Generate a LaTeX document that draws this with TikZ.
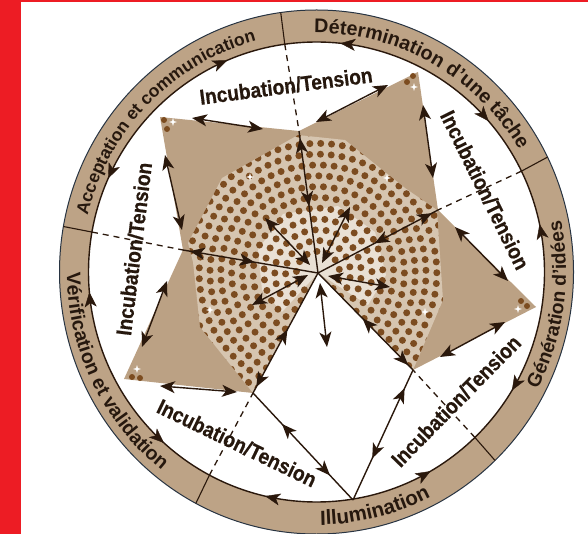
\documentclass[tikz,border=0pt]{standalone}
\usepackage{fontspec}
\setmainfont{Liberation Sans}
\newfontfamily\incfont[FakeStretch=0.89,FakeBold=0.6]{Liberation Sans}
\usetikzlibrary{arrows.meta,decorations.markings,decorations.text}
\definecolor{redbar}{RGB}{237,28,36}
\definecolor{bandtan}{RGB}{189,163,134}
\definecolor{startan}{RGB}{187,161,132}
\definecolor{dotbg}{RGB}{214,197,176}
\definecolor{midlight}{RGB}{233,224,212}
\definecolor{dotcol}{RGB}{124,76,32}
\definecolor{lincol}{RGB}{42,24,12}
\definecolor{rimcol}{RGB}{40,52,66}
\definecolor{txtcol}{RGB}{38,24,14}
\newcommand\mysparkle[1]{\fill[white] (#1) +(0,-4) -- +(0.9,-0.9) -- +(4,0) -- +(0.9,0.9) -- +(0,4) -- +(-0.9,0.9) -- +(-4,0) -- +(-0.9,-0.9) -- cycle;}
\begin{document}
\begin{tikzpicture}[x=1pt,y=-1pt,
  >={Stealth[length=15pt,width=12pt,inset=4pt]},
  lin/.style={draw=lincol, line width=1.4pt, color=lincol},
  dbl/.style={lin, <->},
  apart/.style 2 args={postaction={decorate,decoration={markings,
      mark=at position #1 with {\arrowreversed{>}},
      mark=at position #2 with {\arrow{>}}}}},
  ringhd/.style={color=lincol, postaction={decorate,decoration={markings,
      mark=at position 0.5 with {\arrow{>}}}}},
  dashln/.style={draw=lincol, line width=1.3pt, dash pattern=on 6pt off 5pt},
  inc/.style={font=\incfont\bfseries\fontsize{21.5}{21.5}\selectfont, text=txtcol, inner sep=0pt},
  dotty/.style={fill=dotcol}]
\useasboundingbox (0,0) rectangle (588,534);
\fill[white] (0,0) rectangle (588,534);
\fill[redbar] (0,0) rectangle (21,534);
\fill[redbar] (0,0) rectangle (588,2);

\coordinate (O) at (316.5,272);
\coordinate (C) at (318,273);

% ring
\fill[bandtan] (O) ellipse [x radius=257pt, y radius=262pt];
\fill[white] (O) ellipse [x radius=228pt, y radius=230pt];
\draw[rimcol, line width=1pt] (O) ellipse [x radius=257pt, y radius=262pt];
\draw[lin] (O) ellipse [x radius=228pt, y radius=230pt];

% star points
\coordinate (TUL) at (160,117);
\coordinate (TUR) at (418,72);
\coordinate (TR) at (536,307);
\coordinate (TLL) at (124,379);
\coordinate (TB) at (353,500);
\coordinate (NT) at (299,131);
\coordinate (NR) at (438,210);
\coordinate (NLR) at (413,370);
\coordinate (NLL) at (253,393);
\coordinate (NL) at (183,250);

\fill[startan] (TUL) -- (NT) -- (TUR) -- (NR) -- (TR) -- (NLR) -- (C) -- (NLL) -- (TLL) -- (NL) -- cycle;

% dotted region
\begin{scope}
  \clip (188,243) -- (222,178) -- (298,135) -- (345,140) -- (405,188) -- (437,210)
        -- (443,300) -- (413,370) -- (C) -- (253,393) -- (200,327) -- (193,262) -- cycle;
  \fill[dotbg] (150,100) rectangle (480,420);
  \fill[midlight] (258,250) -- (283,214) -- (338,206) -- (375,232) -- (386,275)
        -- (368,305) -- (C) -- (282,312) -- (262,290) -- cycle;
  \foreach \i in {2,...,18}{
    \pgfmathsetmacro\rr{10.8*\i}
    \pgfmathtruncatemacro\nn{round(2*pi*\rr/10.8)}
    \pgfmathsetmacro\stp{360/\nn}
    \foreach \k in {1,...,\nn}{
      \fill[dotty] (C) ++({\k*\stp+9*\i}:\rr) circle[radius=3.5pt];
    }
  }
\end{scope}

% tip dots and sparkles
\fill[dotty] (164,120) circle[radius=3pt] (167,129) circle[radius=3pt];
\fill[dotty] (407,82) circle[radius=3pt] (413,76) circle[radius=3pt];
\fill[dotty] (521,301) circle[radius=3pt] (527,306) circle[radius=3pt];
\fill[dotty] (132,377) circle[radius=3pt] (140,378) circle[radius=3pt];
\mysparkle{173,122}
\mysparkle{414,87}
\mysparkle{518,309}
\mysparkle{137,369}
\mysparkle{250,177}
\mysparkle{387,178}
\mysparkle{425,312}
\mysparkle{210,310}

% polar part: dividers, ring arrowheads, ring labels
\begin{scope}[shift={(O)}, y=1pt]
  \foreach \a in {98,26,-46,-118,170}{
    \draw[lin, line width=1.1pt] (\a:228 and 230) -- (\a:257 and 262);
    \path[ringhd] ({\a+22}:228 and 230) arc[start angle=\a+22, end angle=\a+8, x radius=228, y radius=230];
    \path[ringhd] ({\a-21}:228 and 230) arc[start angle=\a-21, end angle=\a-7, x radius=228, y radius=230];
  }
  \coordinate (Da) at (98:228 and 230);
  \coordinate (Db) at (26:228 and 230);
  \coordinate (Dc) at (-46:228 and 230);
  \coordinate (Dd) at (-118:228 and 230);
  \coordinate (De) at (170:228 and 230);

  \path[decorate, decoration={text along path, text align=center, text color=txtcol,
     text={|\fontsize{17.5}{17.5}\selectfont\bfseries|Acceptation et communication}}]
     (180.5:235.5 and 239) arc[start angle=180.5, end angle=90.5, x radius=235.5, y radius=239];
  \path[decorate, decoration={text along path, text align=center, text color=txtcol,
     text={|\fontsize{19.7}{19.7}\selectfont\bfseries|Détermination d’une tâche}}]
     (105.7:235.5 and 239) arc[start angle=105.7, end angle=15.7, x radius=235.5, y radius=239];
  \path[decorate, decoration={text along path, text align=center, text color=txtcol,
     text={|\fontsize{19.3}{19.3}\selectfont\bfseries|Génération d’idées}}]
     (-53:249.5 and 253) arc[start angle=-53, end angle=37, x radius=249.5, y radius=253];
  \path[decorate, decoration={text along path, text align=center, text color=txtcol,
     text={|\fontsize{20.5}{20.5}\selectfont\bfseries|Illumination}}]
     (-116:249.5 and 253) arc[start angle=-116, end angle=-36, x radius=249.5, y radius=253];
  \path[decorate, decoration={text along path, text align=center, text color=txtcol,
     text={|\fontsize{19.6}{19.6}\selectfont\bfseries|Vérification et validation}}]
     (161:249.5 and 253) arc[start angle=161, end angle=251, x radius=249.5, y radius=253];
\end{scope}

% dashed links from dividers to notches
\draw[dashln] (Da) -- (NT);
\draw[dashln] (Db) -- (NR);
\draw[dashln] (Dc) -- (NLR);
\draw[dashln] (Dd) -- (NLL);
\draw[dashln] (De) -- (NL);

% spokes
\draw[lin, apart={0.05}{0.53}] (NT) -- (C);
\draw[lin, apart={0.05}{0.53}] (NR) -- (C);
\draw[lin, apart={0.05}{0.53}] (NLR) -- (C);
\draw[lin, apart={0.05}{0.53}] (NLL) -- (C);
\draw[lin, apart={0.05}{0.53}] (NL) -- (C);
\draw[lin, apart={0.14}{0.68}] (NLR) -- (TB);
\draw[lin, apart={0.29}{0.77}] (NLL) -- (TB);

% edge arrows
\coordinate (e1a) at (192,118); \coordinate (e1b) at (263,129);
\coordinate (e2a) at (165,155); \coordinate (e2b) at (182,230);
\coordinate (e3a) at (316,122); \coordinate (e3b) at (388,85);
\coordinate (e4a) at (423,105); \coordinate (e4b) at (433,178);
\coordinate (e5a) at (455,227); \coordinate (e5b) at (508,281);
\coordinate (e6a) at (505,322); \coordinate (e6b) at (440,357);
\coordinate (e7a) at (160,386); \coordinate (e7b) at (237,392);
\coordinate (e8a) at (167,281); \coordinate (e8b) at (142,347);
\foreach \e in {1,...,8}{ \draw[dbl] (e\e a) -- (e\e b); }

% central arrows
\coordinate (c1a) at (310,265); \coordinate (c1b) at (265,218);
\coordinate (c2a) at (322,263); \coordinate (c2b) at (350,207);
\coordinate (c3a) at (328,276); \coordinate (c3b) at (390,287);
\coordinate (c4a) at (320,283); \coordinate (c4b) at (327,347);
\coordinate (c5a) at (308,275); \coordinate (c5b) at (252,305);
\foreach \c in {1,...,5}{ \draw[dbl] (c\c a) -- (c\c b); }

% Incubation labels
\node[inc, rotate=7.5] (i1) at (286,86) {Incubation/Tension};
\node[inc, rotate=-63.7] (i2) at (485,190) {Incubation/Tension};
\node[inc, rotate=45.5] (i3) at (456,401) {Incubation/Tension};
\node[inc, rotate=-25.8] (i4) at (237,443) {Incubation/Tension};
\node[inc, rotate=83] (i5) at (134,249) {Incubation/Tension};
\end{tikzpicture}
\end{document}
